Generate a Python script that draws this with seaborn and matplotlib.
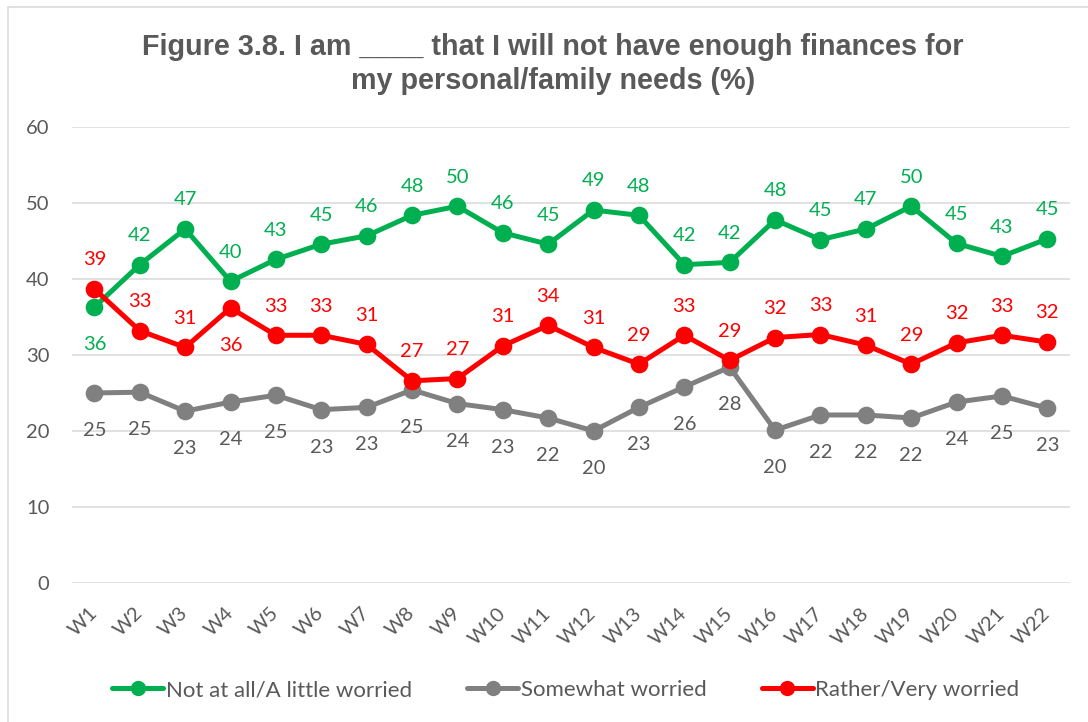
import matplotlib
matplotlib.use("Agg")
import matplotlib.pyplot as plt
from matplotlib.lines import Line2D
from matplotlib.patches import Rectangle
import pandas as pd
import seaborn as sns

# ---- data ----
waves = [f"W{i}" for i in range(1, 23)]
not_worried = [36.3, 41.9, 46.6, 39.7, 42.6, 44.6, 45.7, 48.4, 49.6, 46.1, 44.6,
               49.1, 48.4, 41.9, 42.2, 47.8, 45.2, 46.6, 49.6, 44.7, 43.0, 45.3]
somewhat_worried = [25.0, 25.1, 22.6, 23.8, 24.7, 22.8, 23.1, 25.4, 23.6, 22.8, 21.7,
                    20.0, 23.1, 25.8, 28.4, 20.1, 22.1, 22.1, 21.7, 23.8, 24.6, 23.0]
very_worried = [38.7, 33.2, 31.0, 36.2, 32.6, 32.6, 31.4, 26.6, 26.9, 31.2, 33.9,
                31.0, 28.8, 32.6, 29.3, 32.3, 32.7, 31.3, 28.8, 31.6, 32.6, 31.7]
series_names = ["Not at all/A little worried", "Somewhat worried", "Rather/Very worried"]
y_ticks = [0, 10, 20, 30, 40, 50, 60]
title_lines = ["Figure 3.8. I am ____ that I will not have enough finances for",
               "my personal/family needs (%)"]

# ---- style ----
line_colors = ["#00B050", "#808080", "#FF0000"]
text_colors = ["#00B050", "#595959", "#FF0000"]
grey_text = "#595959"
grid_grey = "#D9D9D9"
# value labels drawn under the point (series index, wave index); all of series 1 goes below
below = {(0, 0), (2, 3)}

sns.set_theme(style="white")
plt.rcParams["font.family"] = ["Lato", "DejaVu Sans"]

values = [not_worried, somewhat_worried, very_worried]
df = pd.DataFrame({
    "wave": waves * 3,
    "value": not_worried + somewhat_worried + very_worried,
    "series": [n for n in series_names for _ in waves],
})

fig = plt.figure(figsize=(10.88, 7.22), dpi=100)
ax = fig.add_axes([0.0659, 0.1929, 0.9176, 0.6308])

sns.pointplot(data=df, x="wave", y="value", hue="series", order=waves,
              hue_order=series_names, palette=line_colors, markers="o",
              linestyles="-", markersize=10, linewidth=3.6, errorbar=None,
              legend=False, ax=ax)

for s, (vals, col) in enumerate(zip(values, text_colors)):
    for i, v in enumerate(vals):
        is_below = s == 1 or (s, i) in below
        ax.annotate(f"{v:.0f}", (i, v), xytext=(0, -31 if is_below else 17),
                    textcoords="offset points", ha="center", va="baseline",
                    fontsize=14.5, color=col)

ax.set_xlim(-0.5, len(waves) - 0.5)
ax.set_ylim(0, 60)
ax.set_yticks(y_ticks)
ax.set_xticks(range(len(waves)))
ax.set_xticklabels(waves, rotation=45, ha="right", va="center", rotation_mode="anchor")
ax.tick_params(axis="y", length=0, pad=16, labelsize=14.5, labelcolor=grey_text)
ax.tick_params(axis="x", length=0, pad=20, labelsize=14.5, labelcolor=grey_text)
ax.set_xlabel("")
ax.set_ylabel("")
for sp in ax.spines.values():
    sp.set_visible(False)
ax.grid(axis="y", color=grid_grey, linewidth=1.1)
ax.set_axisbelow(True)

handles = [Line2D([0], [0], color=c, lw=3.6, marker="o", markersize=10) for c in line_colors]
fig.legend(handles, series_names, loc="center", bbox_to_anchor=(0.52, 0.0443), ncol=3,
           frameon=False, fontsize=16, handlelength=2.3, handletextpad=0.1,
           columnspacing=2.5, labelcolor=grey_text)

for line, ypix in zip(title_lines, [55, 89]):
    fig.text(0.508, 1 - ypix / 722, line, ha="center", va="baseline", fontsize=20.7,
             fontweight="bold", color=grey_text, family=["Liberation Sans", "DejaVu Sans"])

# chart-area border
fig.add_artist(Rectangle((8 / 1088, -0.05), 1.0, 1.05 - 7 / 722, transform=fig.transFigure,
                         fill=False, edgecolor=grid_grey, linewidth=1.1))

fig.savefig("out.png", dpi=100)
